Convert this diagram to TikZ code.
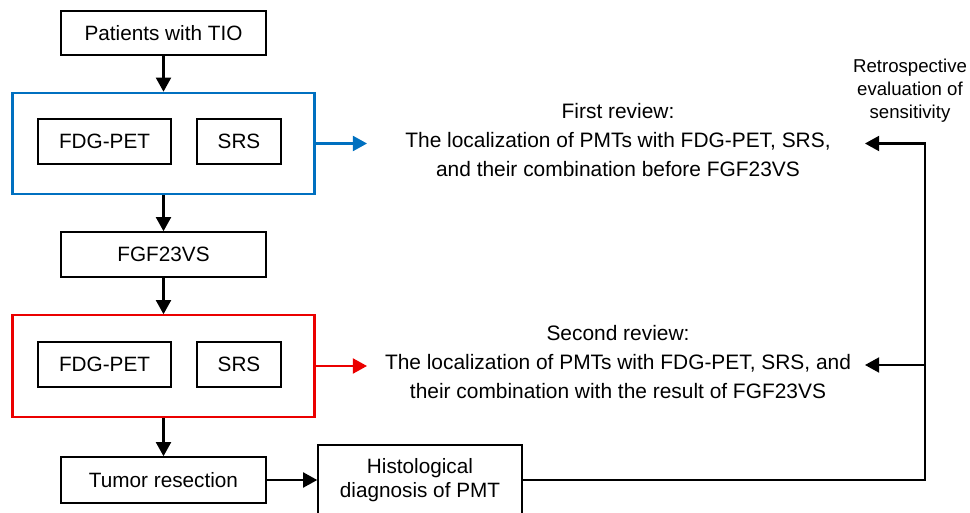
\documentclass[tikz,border=0pt]{standalone}
\usepackage{fontspec}
\setmainfont{Liberation Sans}
\usetikzlibrary{arrows.meta}
\definecolor{revblue}{RGB}{0,112,192}
\definecolor{revred}{RGB}{235,0,0}

\begin{document}
\begin{tikzpicture}[x=0.02cm,y=-0.02cm,
    box/.style={draw, line width=0.9pt, font=\fontsize{11.8}{14}\selectfont, inner sep=0pt, align=center},
    group/.style={draw, line width=1.2pt, inner sep=0pt, minimum width=6.04cm, minimum height=2.03cm},
    flow/.style={line width=1.2pt, -{Triangle[length=8pt,width=8.5pt]}},
    note/.style={font=\fontsize{11.9}{16.5}\selectfont, align=center}]
            \useasboundingbox (0,0) rectangle (970,513);
            % left column
            \node[box, minimum width=4.1cm, minimum height=0.88cm] (pat) at (163.5,33) {Patients with TIO};
            \node[group, draw=revblue] (blue) at (163.5,143.5) {};
            \node[box, minimum width=2.66cm, minimum height=0.9cm] (fdga) at (104.5,141.5) {FDG-PET};
            \node[box, minimum width=1.68cm, minimum height=0.9cm] (srsa) at (239,141.5) {SRS};
            \node[box, minimum width=4.1cm, minimum height=0.9cm] (fgf) at (163.5,254.5) {FGF23VS};
            \node[group, draw=revred] (red) at (163.5,366) {};
            \node[box, minimum width=2.66cm, minimum height=0.9cm] (fdgb) at (104.5,364.5) {FDG-PET};
            \node[box, minimum width=1.68cm, minimum height=0.9cm] (srsb) at (239,364.5) {SRS};
            \node[box, minimum width=4.1cm, minimum height=0.92cm] (tum) at (163.5,480) {Tumor resection};
            \node[box, minimum width=4.08cm, minimum height=1.4cm] (hist) at (420,480) {Histological\\diagnosis of PMT};
            % reviews
            \node[note] (reva) at (618,140) {First review:\\The localization of PMTs with FDG-PET, SRS,\\and their combination before FGF23VS};
            \node[note] (revb) at (618,362) {Second review:\\The localization of PMTs with FDG-PET, SRS, and\\their combination with the result of FGF23VS};
            \node[font=\fontsize{10.6}{13}\selectfont, align=center] (retro) at (910,91) {Retrospective\\evaluation of\\sensitivity};
            \coordinate (ba) at (367,143.5);
            \coordinate (rb) at (367,366);
            \coordinate (loop) at (925,143.5);
            \coordinate (ta) at (865,143.5);
            \coordinate (tb) at (865,365);
            % connectors
            \draw[flow] (pat) -- (blue);
            \draw[flow] (blue) -- (fgf);
            \draw[flow] (fgf) -- (red);
            \draw[flow] (red) -- (tum);
            \draw[flow] (tum) -- (hist);
            \draw[flow, revblue] (blue.east) -- (ba);
            \draw[flow, revred] (red.east) -- (rb);
            \draw[flow] (hist.east) -| (loop) -- (ta);
            \draw[flow] (loop |- tb) -- (tb);
        \end{tikzpicture}
\end{document}
